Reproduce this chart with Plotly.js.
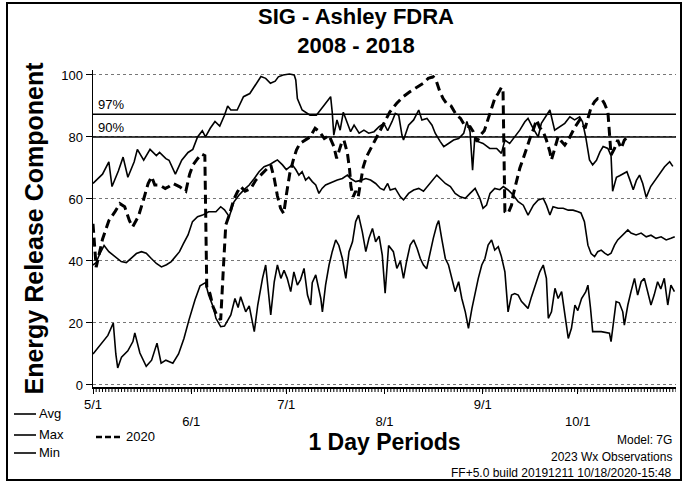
<!DOCTYPE html>
<html>
<head>
<meta charset="utf-8">
<script src="https://cdn.plot.ly/plotly-3.0.1.min.js"></script>
<style>html,body{margin:0;padding:0;background:#fff;}#chart{width:687px;height:484px;}</style>
</head>
<body>
<div id="chart"></div>
<script>
// ---- data (x = days since 5/1) ----
const tickDays = [0, 31, 61, 92, 123, 153];
const tickLabels = ['5/1', '<br>6/1', '7/1', '<br>8/1', '9/1', '<br>10/1'];
const yTicks = [0, 20, 40, 60, 80, 100];
const pct97 = 87.3;
const pct90 = 80;

const maxDays = [0,1,3,5,6,8,9.5,11,13,14,16,18,20,21,23,24,26,28,30,31.5,33,34.5,35.5,37,38.5,40,41.5,42.5,43.5,45.5,47.5,49.5,51,53,54.5,56,57.5,58.5,60,62,63.5,64,64.5,66,68.5,70.5,73,75,75.5,76,77,78,79,80.3,81.3,82.4,84,85.5,87,88.7,90.3,91.8,93,94.4,95.4,96.5,97.5,98,99.6,101.2,102.8,103.8,105.4,107,108,109.6,110.7,112.2,113.8,115.4,117,118,119,119.8,120.5,121.6,123.1,125.2,127.4,128.9,130,131.5,133.1,134.7,136.3,137.3,138.9,140.5,141.5,143.1,144.2,145.7,147.3,148.9,150.5,152,153.6,154.5,155.5,156.7,157.7,158.9,160,161,162.5,163.5,164,165.2,166.2,167.3,168.5,169.5,170.5,171.5,172.5,173.5,174.6,176,177.8,179,180.4,182,183];
const maxVals = [65,66,68,72,64,69,73.5,67,72,76,72.5,76,74,75,73,72.5,68,72.5,75,76,80,82,80,82.8,85,83.5,87,90,88.7,88.7,93,94,96.5,99.5,98.9,97.3,98,99.4,100,100.3,100,98.4,92.4,88.7,87,87,90.3,93,88,80.6,85.5,82.2,88,84.4,81.7,83.8,81.2,82.2,81.2,81.7,83.3,84.4,82,85,87.6,87,80.6,79,83.8,85.5,88.7,85.5,86,83.8,81.2,78.5,76.9,77.9,79,79.5,81.2,85,81.7,69.3,80,78.5,77.9,76.3,76.3,74.7,79,77.9,80,82.2,84.9,86,82.8,80,84.4,87,88.7,82.2,83.3,84.4,86.5,85.5,86.5,84.9,80,72.6,71,72.5,75.2,76.9,76.3,74,62.5,67,67.5,68.2,68.8,66,63,66,67.7,65,60.5,64,66.6,68.5,70.4,72,70.5];

const avgDays = [0,1,2,3.5,5,6.8,8.9,10.5,12.1,13.7,15.3,16.8,18.4,20,21.6,23.2,24.7,26,27.3,28.5,30,31.4,33,34.6,36.5,38.8,40.3,41.5,43,44.5,46.1,47.7,49.3,50.9,52.4,54,55.6,57.2,58.2,59.8,61,62.9,64,65,66,67.1,68.1,69.2,70.3,71.3,72.3,73.4,74.5,75.5,77.1,78.7,80.3,81.3,82.9,84.5,86.1,87.6,89.2,90.7,91.8,93,93.8,95.4,97,98,99.6,101.2,102.8,104.3,105.9,107.4,108.5,109.6,111.2,112.8,114.3,115.9,117.5,119,120.6,122.1,123.1,124.2,125.3,126.8,128.4,129.5,131,132.6,134.2,135.8,137.3,139,140.5,142.1,143.1,144.2,145.2,146.8,148.4,150,151.5,153.1,154,155.1,155.6,156.2,157.2,158.3,159.3,160.4,161.5,162.5,163.5,164.6,165.6,167.2,168.8,169.8,171.4,173,174.6,176.1,177.7,179.3,180.9,182.4,183.6];
const avgVals = [38.7,39.5,42,45,43,41.4,39.8,39.5,40.8,42.4,43,42.5,40.8,39.2,38.1,38.8,39.8,41.4,43,45.5,48.4,52.7,54.3,54.8,55.9,55.9,57.5,56.5,54.3,59.1,61.3,63,64.5,66.6,68.8,70.4,71,72,72.6,71,69.5,71,69.5,67.7,68.8,66.1,67,65.6,64.5,61.8,63.4,64.5,65,65.6,66.1,66.6,67.7,66.6,65.6,66,66.6,66.1,65,63.4,62.9,65,62.9,63.4,60.7,59.7,61.8,62.9,63.4,62.5,64.5,66.1,67.7,66.6,65,64,61.8,60.7,60.2,61.8,63.4,60.2,57,58,61.8,63.4,63,64,62.9,61.3,59.1,58,54.8,58,59.7,60.2,58,54.8,57.5,57,57,56.4,56.4,55.9,55.5,52.7,48.4,45.1,42.4,41.4,43,43.5,42.5,41.9,42.5,45.1,46.8,48.4,50,49,48.4,49,47.8,48.3,47.3,47.8,46.8,47.3,47.8];

const minDays = [0,2.5,4.7,6.4,7.2,7.8,9,11,12.6,13.2,14.8,16.8,18.5,20.2,21.5,23,25.2,27,28.7,30.3,32.2,33.8,35.5,36.5,38,38.8,40.3,41.5,43.5,44.8,45.8,46.6,48.2,49.3,50.9,52,53.5,54.5,55.3,56.1,57.2,58.2,59.3,60.3,61.3,62.4,63.4,64.5,65.5,66.6,67.7,68.7,69.2,70.3,71.9,72.4,73.4,74.5,75.5,76.6,77.6,78.7,79.8,80.8,81.9,82.9,83.8,85,86.1,87.1,88.2,89.2,90.3,91.3,92.2,93.3,94.8,95.9,97,98,99,100.1,101.2,102.3,103.3,104.3,105.3,106.4,107.4,108.5,109.1,110.1,111.2,112.2,113.3,114.3,115.4,116.4,117.5,118.5,119.6,120.6,121.6,122.7,123.7,124.7,125.8,126.8,127.9,128.9,130,131,132.1,133.1,134.2,135.2,136.3,137.3,138.4,139.5,141,142.1,143.1,143.7,144.7,145.8,146.8,147.9,148.9,150,151,152.1,153,154.2,155.5,156.2,157,157.7,160.4,163,163.5,164,165.1,166.1,167.2,167.7,168.8,169.8,170.9,171.9,173,174,175,176.1,177.1,178.2,179.2,180.3,181.4,182.4,183.5];
const minVals = [10,13,16,20,10,5.5,9,11,14,16.8,10.3,6,8,13.5,7,8,7,10,15,21,27.5,32,33,29,25,21.5,18.8,19,22.6,27.9,25,28.5,23.6,25.5,17.2,25.8,34.4,38.7,30.1,22.6,33.3,38.7,34.4,37,34.4,30.1,36.5,32.2,34,37.6,29,25.8,33,35.5,27.9,23.6,32.2,38.7,43,46.8,45,40.8,34.4,43,46.2,52.7,54.8,49.4,43,47.3,50.5,46.2,48,41.9,29.6,45,43,37.6,40,34.4,40,45.1,46.8,44,40.8,38.7,37.5,43,47.3,51.6,53,47,40.8,38.7,34.4,30.1,33.3,27.9,23.6,18.3,24.7,30.1,34.4,38.7,40.8,45.1,46.8,43.5,44.6,41.4,36.5,23.6,29,29.5,29,27,25.8,24.7,28.5,32.2,36.5,38.7,34.4,21.5,23.6,31.2,27.9,30.1,23.6,15,18.3,25.8,24,27.9,30,32.2,25,17.2,17.2,16.7,14,18,26.9,26.5,23.6,19.3,25.8,30.1,34.4,29,33.3,34.4,30.1,25.8,29,33.3,31,34.4,25.8,32.2,30.1];

const y2020Days = [0,1,3,5,7,8.5,10,11.5,12.5,14.3,15.9,17.4,18.5,19.5,21,22.8,24,25.3,27.4,29.3,30.5,31.6,33,34.3,35.3,35.9,36.9,37.9,39,40.3,41.2,41.9,43,44.5,45.6,46.6,48,49.8,51.4,53,54,55.1,56.1,57.2,58.2,59.2,60.2,61.1,62.1,63.2,64.2,65.3,66.9,68.5,70.1,71.5,73,74.5,76,76.9,77.5,78.4,79.2,80.3,81,81.4,82.1,82.9,83.7,84.3,85.3,86.3,87.4,89,90.5,92.1,93.7,95.8,97.9,100,102.1,104.2,105.8,107.4,108.2,109.5,110.5,111.6,113,114.7,116,117.4,119,120,121.2,122.3,123.5,124.7,125.8,126.8,127.9,128.9,129.4,130,131,132.1,132.6,133.7,134.7,135.8,136.8,137.9,139,140,141,142.1,143.1,144.2,144.7,145.7,146.8,147.9,148.9,150,151,152,153.6,154.5,155.3,156.2,157.2,158.3,159.3,160.5,161.4,162.5,163,163.5,164.6,165.6,166.7,167.7,168.8];
const y2020Vals = [52,38,47,53,56,58.5,57.5,53,51,54.3,59.6,65,67.2,64.5,64.5,63.4,64,65,63.9,62.5,68,71,73,74.5,74,31.7,29.5,25.2,22.6,21,38.7,51.6,54.8,60,62.3,64,62.5,63.4,66.1,67.7,68.8,69.9,71,66.6,61,57,55.3,61.8,68.2,72.5,75.8,77.9,79,80,82.8,81.7,79.5,80.5,77,73.1,75,77.9,79,74.7,69.3,64,60.7,62.5,60.7,64,70.4,73.6,75.8,79,81.7,85.4,88.1,90.8,93,94.6,96,97.3,98.9,99.4,98.5,94.5,92.4,90.8,90,87.1,86,83.5,83.3,81.7,78.5,80.6,82,86,89.2,92.4,94.1,96,95.5,55.9,55.3,58,61.3,65.6,69.9,73.1,76.3,79.5,82.5,85.5,83,81.7,79,75.2,72.6,76.5,80.1,78.5,77.4,79,81.2,83,85.5,84,82.8,86,89.5,91.4,92.4,92.4,90.8,88.1,81.7,74.2,76.3,79,76.3,79,80.1];

// ---- geometry helpers (paper coordinates) ----
const L = 93, R = 11, T = 70, B = 97, W = 687, H = 484;
const pw = W - L - R, ph = H - T - B;
const px = v => (v - L) / pw;
const py = v => (H - B - v) / ph;
const FONT = 'Liberation Sans, Arial, sans-serif';

const xRange = [0, 184];
const dailyTicks = [];
for (let d = xRange[0]; d <= xRange[1]; d++) dailyTicks.push(d);

const solid = (x, y, name) => ({x, y, name, type: 'scatter', mode: 'lines',
  line: {color: '#000', width: 1.6}, hoverinfo: 'skip'});

const traces = [
  solid(maxDays, maxVals, 'Max'),
  solid(avgDays, avgVals, 'Avg'),
  solid(minDays, minVals, 'Min'),
  {x: y2020Days, y: y2020Vals, name: '2020', type: 'scatter', mode: 'lines',
   line: {color: '#000', width: 3, dash: '9px,5px'}, hoverinfo: 'skip'}
];

const shapes = [
  {type: 'line', xref: 'paper', yref: 'y', x0: 0, x1: 1, y0: pct97, y1: pct97, line: {color: '#000', width: 1.5}},
  {type: 'line', xref: 'paper', yref: 'y', x0: 0, x1: 1, y0: pct90, y1: pct90, line: {color: '#000', width: 1.5}},
  {type: 'rect', xref: 'paper', yref: 'paper', x0: px(7), x1: px(681), y0: py(480), y1: py(3), line: {color: '#000', width: 2}},
  // legend samples
  {type: 'line', xref: 'paper', yref: 'paper', x0: px(14), x1: px(36), y0: py(414), y1: py(414), line: {color: '#000', width: 1.6}},
  {type: 'line', xref: 'paper', yref: 'paper', x0: px(14), x1: px(36), y0: py(435), y1: py(435), line: {color: '#000', width: 1.6}},
  {type: 'line', xref: 'paper', yref: 'paper', x0: px(14), x1: px(36), y0: py(453), y1: py(453), line: {color: '#000', width: 1.6}},
  {type: 'line', xref: 'paper', yref: 'paper', x0: px(96), x1: px(123), y0: py(437), y1: py(437), line: {color: '#000', width: 2.5, dash: '6px,3px'}}
];
// daily tick marks along the x axis (axis decoration, placed on the x scale)
dailyTicks.forEach(d => shapes.push({type: 'line', xref: 'x', yref: 'paper', x0: d, x1: d,
  y0: 0, y1: -5 / ph, line: {color: '#000', width: 1}}));

const ann = (text, x, y, xa, size) => ({text, xref: 'paper', yref: 'paper', x: px(x), y: py(y),
  xanchor: xa, yanchor: 'middle', showarrow: false, font: {family: FONT, size, color: '#000'}});

const annotations = [
  {text: '97%', xref: 'paper', yref: 'y', x: px(96), y: pct97, xanchor: 'left', yanchor: 'bottom', showarrow: false, font: {family: FONT, size: 13, color: '#000'}},
  {text: '90%', xref: 'paper', yref: 'y', x: px(96), y: pct90, xanchor: 'left', yanchor: 'bottom', showarrow: false, font: {family: FONT, size: 13, color: '#000'}},
  ann('Avg', 37, 413, 'left', 13),
  ann('Max', 37, 434, 'left', 13),
  ann('Min', 37, 452, 'left', 13),
  ann('2020', 124, 437, 'left', 13),
  ann('Model: 7G', 674, 440, 'right', 12),
  ann('2023 Wx Observations', 674, 457, 'right', 12),
  ann('FF+5.0 build 20191211 10/18/2020-15:48', 674, 473, 'right', 12)
];

const layout = {
  width: W, height: H,
  margin: {l: L, r: R, t: T, b: B},
  paper_bgcolor: '#fff', plot_bgcolor: '#fff',
  showlegend: false,
  font: {family: FONT, color: '#000'},
  title: {text: '<b>SIG - Ashley FDRA</b><br><b>2008 - 2018</b>', font: {family: FONT, size: 22, color: '#000'},
          xref: 'paper', x: px(356), xanchor: 'center', yref: 'container', y: 0.95, yanchor: 'top'},
  xaxis: {
    range: xRange, tickmode: 'array', tickvals: tickDays, ticktext: tickLabels,
    ticks: 'outside', ticklen: 5, tickcolor: '#000', tickwidth: 1,
    showline: true, linecolor: '#000', linewidth: 1.5, showgrid: false, zeroline: false,
    tickfont: {family: FONT, size: 13, color: '#000'},
    title: {text: '<b>1 Day Periods</b>', font: {family: FONT, size: 23, color: '#000'}, standoff: 2}
  },
  yaxis: {
    range: [-0.65, 101.6], tickmode: 'array', tickvals: yTicks,
    ticks: 'outside', ticklen: 6, tickcolor: '#000',
    showline: true, linecolor: '#000', linewidth: 1.5,
    showgrid: true, gridcolor: '#777', griddash: 'dot', gridwidth: 1, zeroline: false,
    tickfont: {family: FONT, size: 13, color: '#000'},
    title: {text: '<b>Energy Release Component</b>', font: {family: FONT, size: 25, color: '#000'}, standoff: 10}
  },
  shapes, annotations
};

Plotly.newPlot('chart', traces, layout, {displayModeBar: false, staticPlot: true});
</script>
</body>
</html>
